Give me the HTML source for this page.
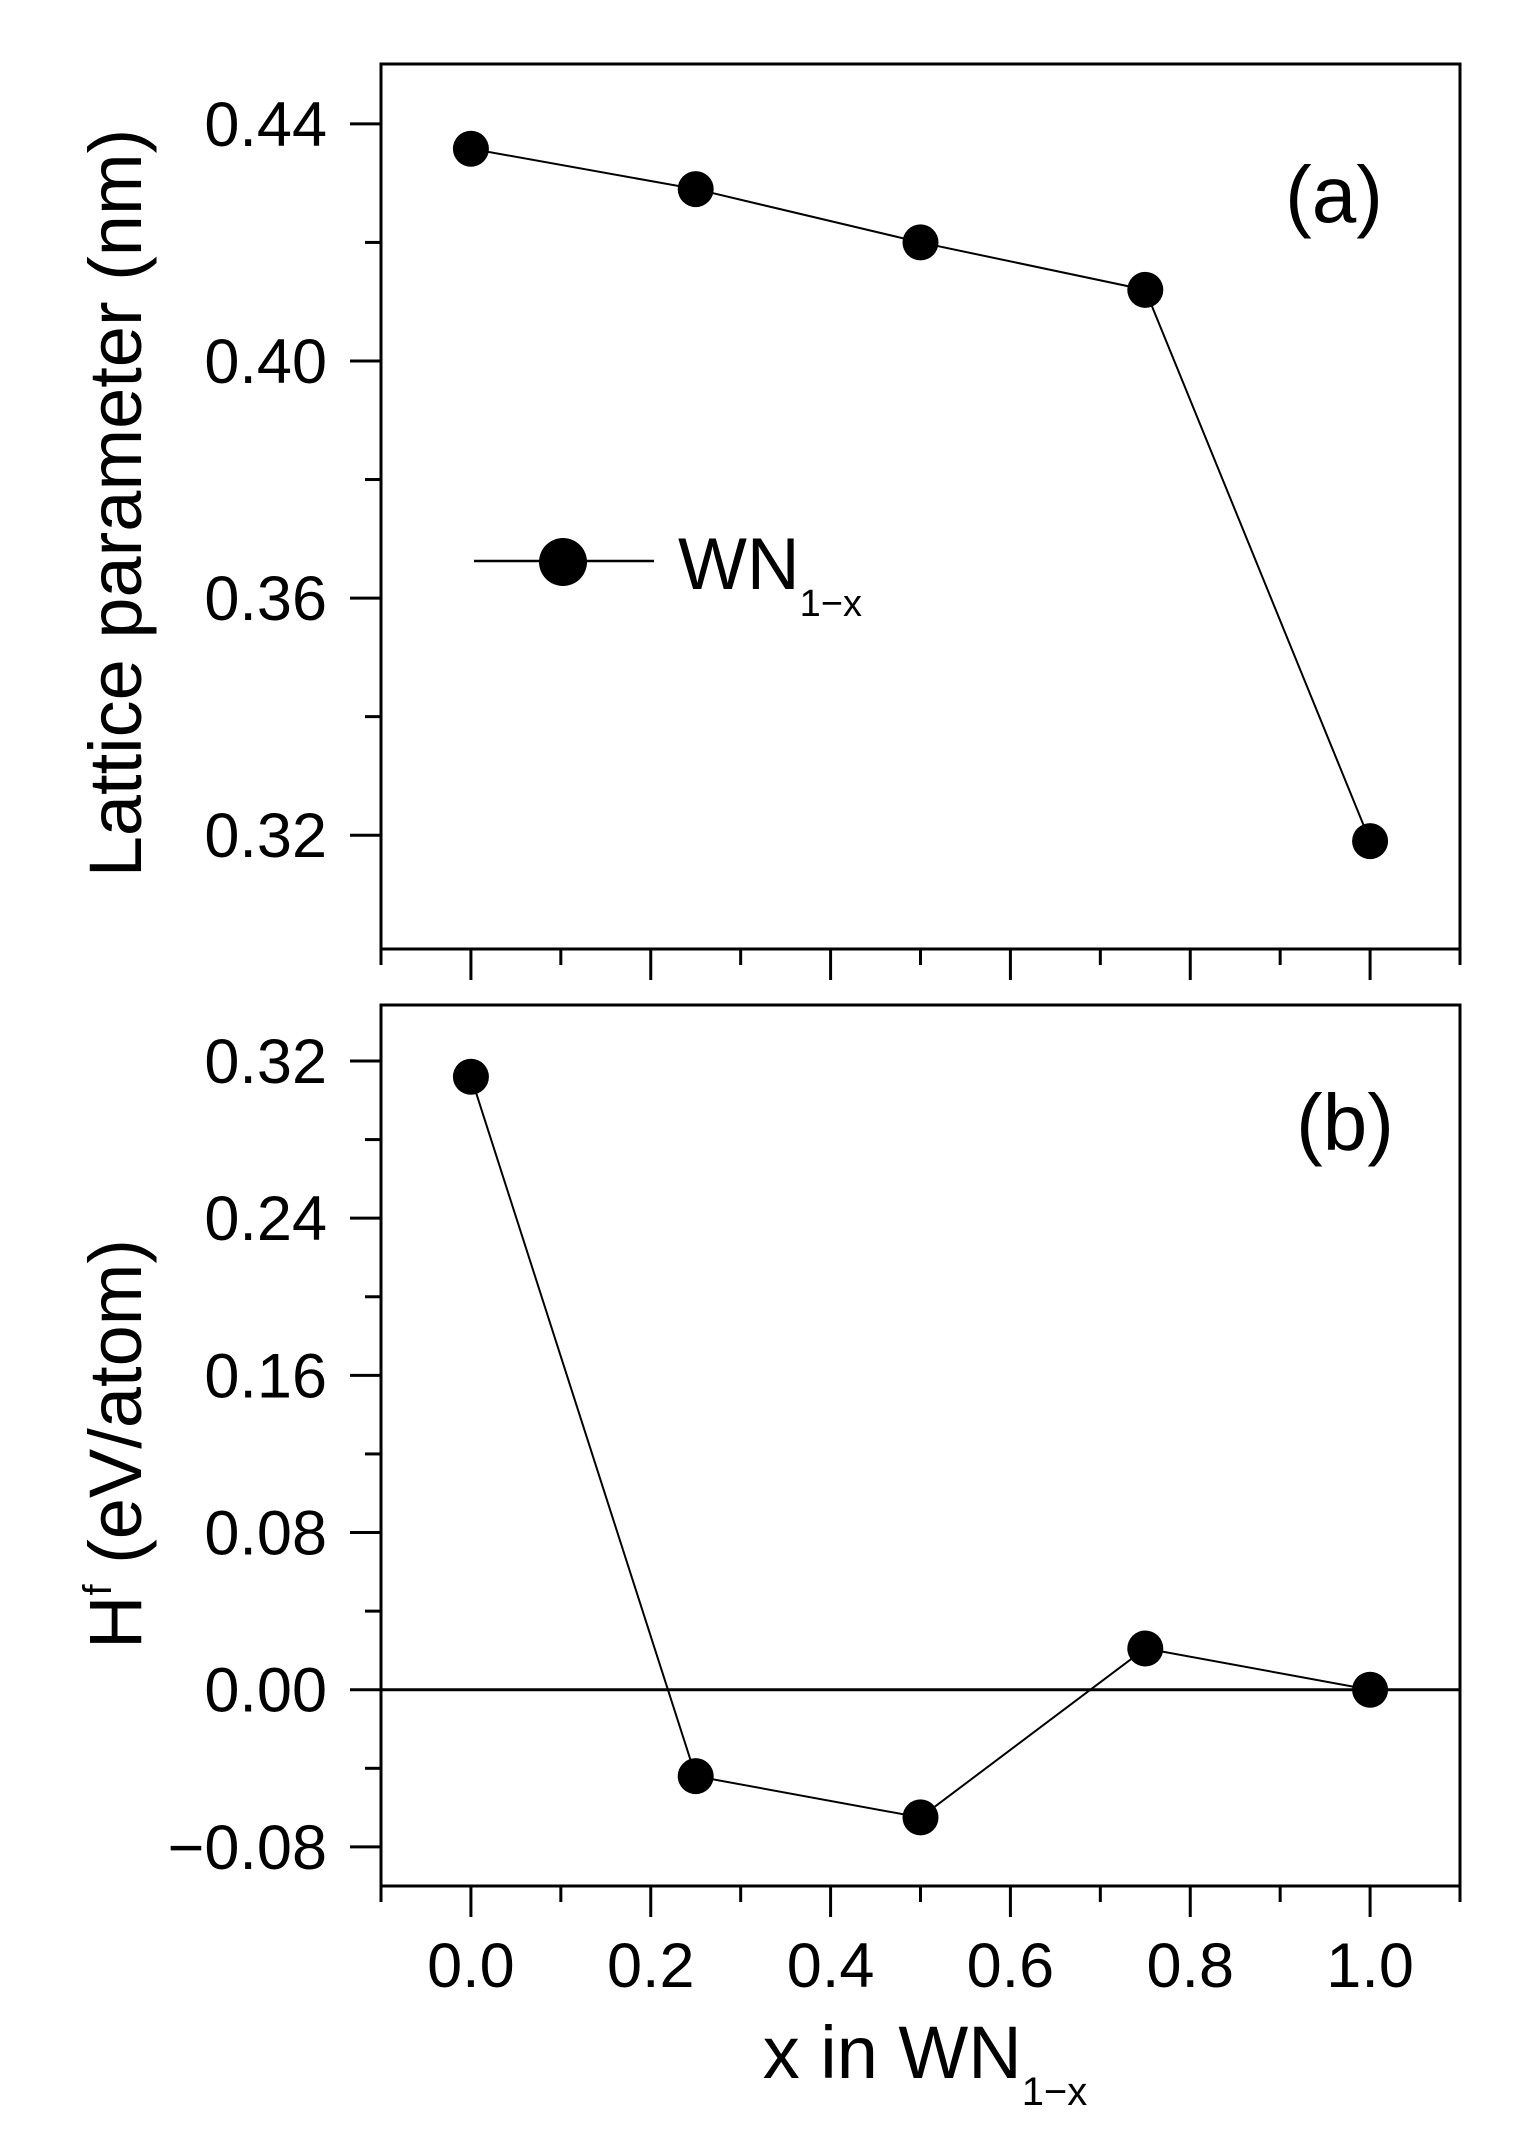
<!DOCTYPE html>
<html><head><meta charset="utf-8"><style>
html,body{margin:0;padding:0;background:#fff;}
svg{display:block;font-family:"Liberation Sans",Arial,sans-serif;}
</style></head><body>
<svg id="chart" width="1529" height="2133" viewBox="0 0 1529 2133" xmlns="http://www.w3.org/2000/svg"></svg>
<script>
const xValues = [0.0, 0.25, 0.5, 0.75, 1.0];
const latticeValues = [0.4358, 0.429, 0.420, 0.412, 0.319];
const formationValues = [0.312, -0.044, -0.065, 0.021, 0.0];
const xTickLabels = ["0.0","0.2","0.4","0.6","0.8","1.0"];
const latticeTickLabels = ["0.32","0.36","0.40","0.44"];
const formationTickLabels = ["\u22120.08","0.00","0.08","0.16","0.24","0.32"];

const NS="http://www.w3.org/2000/svg";
const svg=document.getElementById('chart');
function mk(tag,attrs,parent){const e=document.createElementNS(NS,tag);for(const k in attrs)e.setAttribute(k,attrs[k]);(parent||svg).appendChild(e);return e;}

const L=381,R=1460;
const xMin=-0.1,xMax=1.1;
function sx(v){return L+(v-xMin)/(xMax-xMin)*(R-L);}

function panel(name,top,bottom,yMin,yMax,values,tickLabels,major,minor,zeroLine){
  const g=mk('g',{});
  
  
  const sy=v=>bottom-(v-yMin)/(yMax-yMin)*(bottom-top);
  const frame=mk('rect',{x:L,y:top,width:R-L,height:bottom-top,fill:'none',stroke:'#000','stroke-width':3},g);
  
  
  const start=Math.ceil((yMin-1e-9)/minor)*minor;
  for(let v=start;v<=yMax+1e-9;v+=minor){
    const isMaj=Math.abs(Math.round(v/major)*major-v)<1e-6;
    const t=mk('line',{x1:L-(isMaj?31:16),x2:L,y1:sy(v),y2:sy(v),stroke:'#000','stroke-width':3},g);
    
    
  }
  tickLabels.forEach(s=>{
    const v=parseFloat(s.replace('\u2212','-'));
    const t=mk('text',{x:327,y:sy(v)+22,'font-size':63,'text-anchor':'end'},g);
    t.textContent=s;
    
    
  });
  for(let i=0;i<=12;i++){
    const v=xMin+i*0.1;
    const isMaj=Math.abs(Math.round(v/0.2)*0.2-v)<1e-6;
    const t=mk('line',{x1:sx(v),x2:sx(v),y1:bottom,y2:bottom+(isMaj?31:16),stroke:'#000','stroke-width':3},g);
    
    
  }
  if(zeroLine){
    const z=mk('line',{x1:L,x2:R,y1:sy(0),y2:sy(0),stroke:'#000','stroke-width':3},g);
    
    
  }
  const pts=xValues.map((x,i)=>sx(x)+','+sy(values[i])).join(' ');
  const pl=mk('polyline',{points:pts,fill:'none',stroke:'#000','stroke-width':2},g);
  
  
  xValues.forEach((x,i)=>{
    const c=mk('circle',{cx:sx(x),cy:sy(values[i]),r:18,fill:'#000'},g);
    
    
  });
  return sy;
}

panel('panel-a',64,949,0.3008,0.4501,latticeValues,latticeTickLabels,0.04,0.02,false);
panel('panel-b',1005,1886,-0.0999,0.3485,formationValues,formationTickLabels,0.08,0.04,true);

xTickLabels.forEach(s=>{
  const t=mk('text',{x:sx(parseFloat(s)),y:1987,'font-size':63,'text-anchor':'middle'});
  t.textContent=s;
  
  
});

function txt(name,html,attrs){const t=mk('text',attrs);t.innerHTML=html;return t;}
txt('x-axis-title','x in WN<tspan font-size="40" dy="27">1\u2212x</tspan>',{x:925,y:2078,'font-size':74,'text-anchor':'middle'});
txt('y-axis-title-a','Lattice parameter (nm)',{x:0,y:0,'font-size':74,'text-anchor':'middle',transform:'translate(141,503) rotate(-90)'});
txt('y-axis-title-b','H<tspan font-size="40" dy="-30">f</tspan><tspan dy="30"> (eV/atom)</tspan>',{x:0,y:0,'font-size':74,'text-anchor':'middle',transform:'translate(141,1444) rotate(-90)'});
txt('panel-label-a','(a)',{x:1334,y:222,'font-size':80,'text-anchor':'middle'});
txt('panel-label-b','(b)',{x:1345,y:1150,'font-size':80,'text-anchor':'middle'});

const lg=mk('g',{});


const ll=mk('line',{x1:474,x2:654,y1:561,y2:561,stroke:'#000','stroke-width':2.5},lg);


const lc=mk('circle',{cx:563,cy:562,r:24,fill:'#000'},lg);


const lt=mk('text',{x:678,y:589,'font-size':73},lg);
lt.innerHTML='WN<tspan font-size="38" dy="27">1\u2212x</tspan>';


</script>
</body></html>
